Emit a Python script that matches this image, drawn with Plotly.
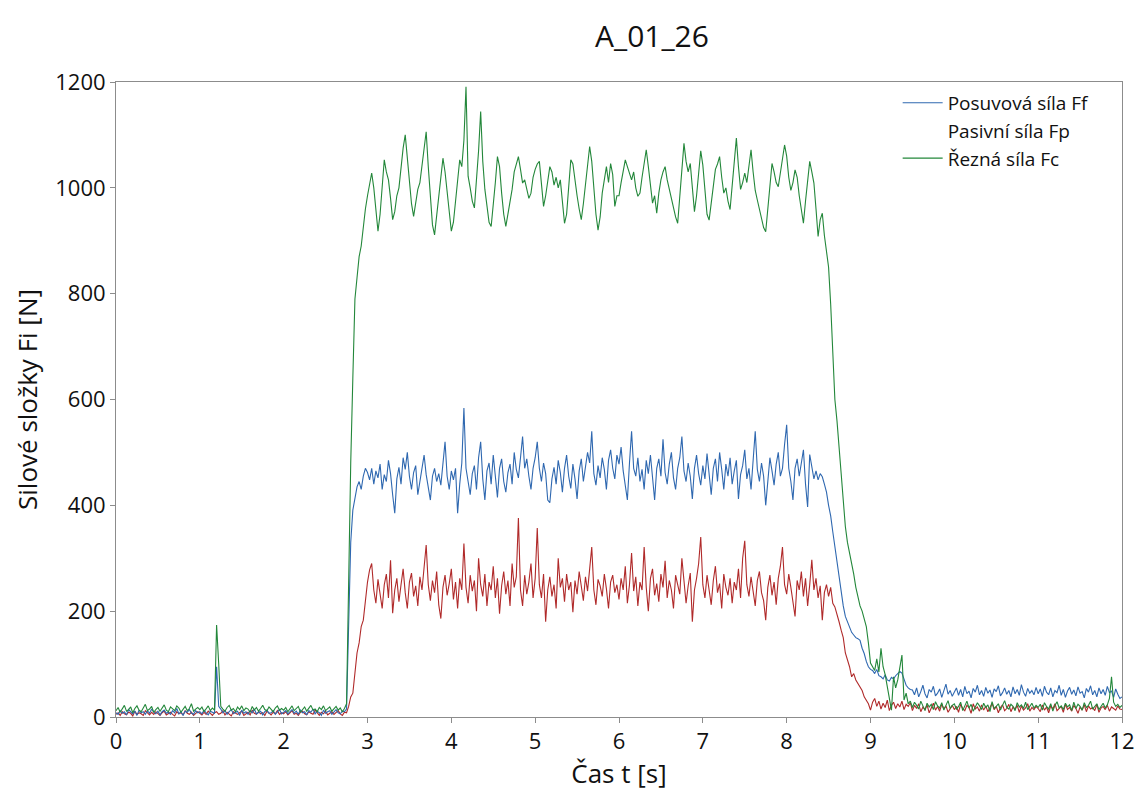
import plotly.graph_objects as go

# ---- data: force components sampled every 0.025 s, one list per second ----
STEP = 0.025

fc_blocks = [
    [12,18,9,15,22,11,14,19,8,16,21,13,10,17,24,12,15,20,9,14,18,11,16,23,13,10,19,15,12,21,17,9,14,20,12,16,25,11,15,18],
    [14,19,10,16,21,12,17,13,174,100,20,15,11,18,22,13,16,10,19,14,21,12,17,15,9,20,13,18,11,16,22,14,12,19,15,10,17,21,13,16],
    [13,18,10,15,21,12,16,20,9,14,19,11,17,22,13,15,10,18,14,21,12,16,19,11,15,20,13,17,10,16,25,300,480,640,790,830,870,890,930,960],
    [985,1010,1028,1000,960,918,950,1000,1053,1030,1015,980,940,955,985,1000,1040,1075,1100,1060,1010,970,946,975,997,1010,1045,1070,1106,1040,985,930,911,950,985,1020,1056,1030,990,945],
    [918,935,971,1005,1053,1040,1090,1191,1022,1000,975,962,1010,1070,1144,1050,997,960,935,927,965,1010,1059,1040,990,950,927,950,980,997,1030,1045,1059,1035,1009,1015,995,980,990,1020],
    [1035,1045,1050,1010,965,985,1010,1040,1030,1005,1020,1000,1015,970,933,950,1000,1053,1045,1010,985,960,940,970,1010,1040,1078,1050,990,950,920,945,990,1020,1040,1010,1046,1025,965,985],
    [985,1010,1035,1053,1040,1025,1015,1030,1000,984,990,1020,1045,1072,1040,1000,971,985,952,990,1015,1030,1040,1015,997,980,960,945,933,990,1045,1084,1050,1030,1046,1000,955,985,1030,1070],
    [1043,990,950,939,970,1010,1035,1045,1059,1020,990,1000,975,959,1000,1050,1094,1040,997,1010,1028,1010,1040,1072,1030,995,977,960,940,925,917,960,1010,1046,1030,1010,1002,1030,1060,1081],
    [1060,1020,995,1010,1034,1020,985,955,933,975,1020,1050,1030,1009,960,908,940,952,910,877,850,780,680,600,560,500,460,410,360,330,310,297,270,245,225,210,200,185,171,140],
    [102,95,88,110,85,130,95,80,60,40,13,76,55,70,90,117,32,45,25,30,18,28,22,15,30,20,12,26,19,24,14,29,21,17,27,13,23,31,16,22],
    [25,15,20,28,12,22,30,17,24,11,19,27,21,14,26,18,23,10,29,16,20,25,13,22,31,18,15,24,20,12,27,19,23,16,28,14,21,26,17,22],
    [18,24,13,27,20,15,25,11,22,29,17,21,14,26,19,23,12,28,16,24,20,13,27,18,22,30,15,21,25,14,19,26,17,23,35,76,28,20,24,18],
    [22],
]

ff_blocks = [
    [8,5,12,7,10,4,14,9,6,11,3,13,8,10,5,12,7,15,9,6,11,4,10,13,7,9,5,12,8,16,6,10,3,11,9,14,7,5,12,8],
    [10,6,13,8,4,11,9,7,95,20,15,8,12,5,10,14,6,9,11,3,13,7,10,5,12,8,15,6,9,11,4,10,13,7,8,12,5,9,14,6],
    [9,12,6,10,14,7,11,5,13,8,10,4,12,9,15,6,11,8,3,13,7,10,12,5,9,14,8,6,11,10,15,200,330,391,410,435,445,430,455,470],
    [462,448,470,440,465,452,478,430,458,445,485,460,420,385,450,472,440,490,468,500,455,430,462,475,420,448,470,495,458,430,410,455,470,445,460,438,480,520,455,430],
    [465,448,470,385,440,480,584,470,445,420,460,475,430,490,520,450,410,465,480,440,495,460,415,470,488,445,425,462,478,440,500,468,452,490,530,470,488,455,430,470],
    [490,520,470,445,480,460,410,405,450,472,440,485,462,425,470,495,455,432,478,450,412,465,488,445,470,500,480,540,460,438,475,452,490,468,430,485,505,470,450,495],
    [478,510,465,440,410,480,540,470,455,490,445,468,430,485,460,495,450,410,470,488,455,525,462,440,478,500,452,430,470,490,530,465,445,480,455,412,470,495,460,438],
    [475,450,498,462,420,470,488,445,500,468,430,478,455,490,440,465,485,412,458,475,505,450,470,430,495,540,468,445,480,455,400,448,490,465,438,478,500,455,470,515],
    [552,470,445,410,470,488,455,480,505,440,397,496,470,450,465,448,460,454,440,425,400,380,350,320,300,265,230,210,190,180,170,160,155,150,148,145,130,120,105,95],
    [90,88,82,90,78,76,72,80,70,68,75,72,78,82,86,83,70,60,55,52,51,42,55,38,48,60,44,36,52,47,58,40,45,53,37,49,62,43,50,39],
    [46,55,41,52,38,58,44,49,36,54,47,60,42,50,39,56,45,51,37,53,48,59,40,46,55,43,50,38,57,44,52,41,61,47,39,54,45,50,42,56],
    [44,53,39,58,47,42,55,38,50,46,60,41,52,37,49,56,43,51,40,57,45,48,36,54,47,59,42,50,38,55,44,52,41,58,46,49,37,53,43,35],
    [38],
]

fp_blocks = [
    [5,8,3,10,6,4,9,7,2,11,5,8,6,3,12,7,4,9,5,10,6,3,8,11,4,7,9,5,2,10,6,8,4,12,7,5,9,3,6,10],
    [7,4,9,5,11,6,3,8,10,5,7,12,4,9,6,2,10,7,5,8,11,3,6,9,4,13,7,5,10,6,8,3,11,7,4,9,6,12,5,8],
    [6,10,4,8,12,5,7,3,9,11,6,4,10,7,5,13,8,3,9,6,11,4,7,10,5,8,12,6,3,9,8,20,38,45,85,121,140,171,183,220],
    [255,278,290,240,215,260,230,205,250,270,225,296,196,240,262,218,250,280,235,205,255,272,228,248,210,265,240,285,325,250,220,258,235,275,212,186,245,268,230,252],
    [280,222,255,205,262,240,328,245,215,268,238,258,200,300,250,228,270,210,255,240,285,225,262,195,248,275,232,258,210,290,245,265,376,240,210,268,232,255,290,225],
    [262,357,250,225,270,180,240,265,228,250,205,300,245,262,218,270,240,255,198,258,232,275,245,220,265,238,280,321,240,212,260,248,228,270,242,205,255,268,235,250],
    [222,262,240,285,215,250,310,238,265,210,255,240,321,245,200,262,280,230,252,218,270,245,295,225,258,240,205,268,250,232,300,260,215,248,272,180,240,262,290,340],
    [250,225,268,240,212,258,285,235,252,205,270,245,230,262,215,255,240,280,225,300,333,250,228,265,240,210,258,275,235,220,183,245,268,230,255,212,262,285,321,250],
    [232,270,245,215,190,258,240,275,228,262,210,250,297,240,262,225,248,183,235,250,228,245,215,208,195,180,164,150,121,110,95,76,82,70,64,58,50,38,30,25],
    [13,28,35,20,30,15,26,18,32,12,22,28,16,25,19,30,14,24,20,27,12,22,16,25,10,19,14,23,8,18,26,13,20,11,24,15,21,9,17,22],
    [14,20,9,24,16,12,22,18,7,25,15,19,11,23,13,21,10,17,26,14,20,8,18,23,12,16,24,10,19,15,22,9,21,13,17,25,11,18,14,20],
    [16,10,23,13,19,8,21,15,25,12,17,20,9,24,14,18,11,22,16,7,19,13,23,10,21,15,18,12,24,9,17,20,14,22,11,19,16,13,21,15],
    [14],
]

names = ["Posuvová síla Ff", "Pasivní síla Fp", "Řezná síla Fc"]
x_ticks = list(range(0, 13))
y_ticks = [0, 200, 400, 600, 800, 1000, 1200]


def flatten(blocks):
    t, v = [], []
    for sec, block in enumerate(blocks):
        for j, val in enumerate(block):
            t.append(round(sec + j * STEP, 3))
            v.append(val)
    return t, v


t_ff, ff = flatten(ff_blocks)
t_fp, fp = flatten(fp_blocks)
t_fc, fc = flatten(fc_blocks)

BLUE = "#2f68b0"
RED = "#b02a2a"
GREEN = "#23873a"

fig = go.Figure()
fig.add_trace(go.Scatter(x=t_fp, y=fp, mode="lines", name=names[1], showlegend=False,
                         line=dict(color=RED, width=1.1)))
fig.add_trace(go.Scatter(x=t_ff, y=ff, mode="lines", name=names[0], legendrank=1,
                         line=dict(color=BLUE, width=1.1)))
fig.add_trace(go.Scatter(x=t_fc, y=fc, mode="lines", name=names[2], legendrank=3,
                         line=dict(color=GREEN, width=1.1)))
# legend entry for Fp (shown without a line sample, as in the original)
fig.add_trace(go.Scatter(x=[None], y=[None], mode="lines", name=names[1], legendrank=2,
                         line=dict(color="rgba(0,0,0,0)", width=1)))

FONT = "Open Sans, Segoe UI, sans-serif"

fig.update_layout(
    width=1136, height=794,
    autosize=False,
    paper_bgcolor="white", plot_bgcolor="white",
    margin=dict(l=116, r=14, t=82, b=77),
    font=dict(family=FONT, color="#111111", size=22),
    title=dict(text="A_01_26", x=652 / 1136, xref="container", xanchor="center",
               y=1 - 36 / 794, yref="container", yanchor="middle",
               font=dict(size=30, family=FONT, color="#111111")),
    showlegend=True,
    legend=dict(x=0.777, y=0.997, xanchor="left", yanchor="top",
                bgcolor="rgba(255,255,255,0)", borderwidth=0,
                font=dict(size=19, family=FONT, color="#111111"),
                tracegroupgap=0, itemwidth=40),
)

fig.update_xaxes(range=[0, 12], tickvals=x_ticks, ticktext=[str(v) for v in x_ticks],
                 automargin=False,
                 showgrid=False, zeroline=False, showline=True, linecolor="#8c8c8c",
                 linewidth=1, mirror=True, ticks="outside", ticklen=5, tickcolor="#8c8c8c",
                 tickfont=dict(size=22),
                 title=dict(text="Čas t [s]", font=dict(size=26), standoff=8))
fig.update_yaxes(range=[0, 1200], tickvals=y_ticks, ticktext=[str(v) for v in y_ticks],
                 automargin=False,
                 showgrid=False, zeroline=False, showline=True, linecolor="#8c8c8c",
                 linewidth=1, mirror=True, ticks="outside", ticklen=5, tickcolor="#8c8c8c",
                 tickfont=dict(size=22),
                 title=dict(text="Silové složky Fi [N]", font=dict(size=26), standoff=10))

fig.write_html(
    "out.html",
    config={"responsive": False, "displayModeBar": False},
    post_script="document.body.style.margin='0';document.body.style.overflow='hidden';",
)
